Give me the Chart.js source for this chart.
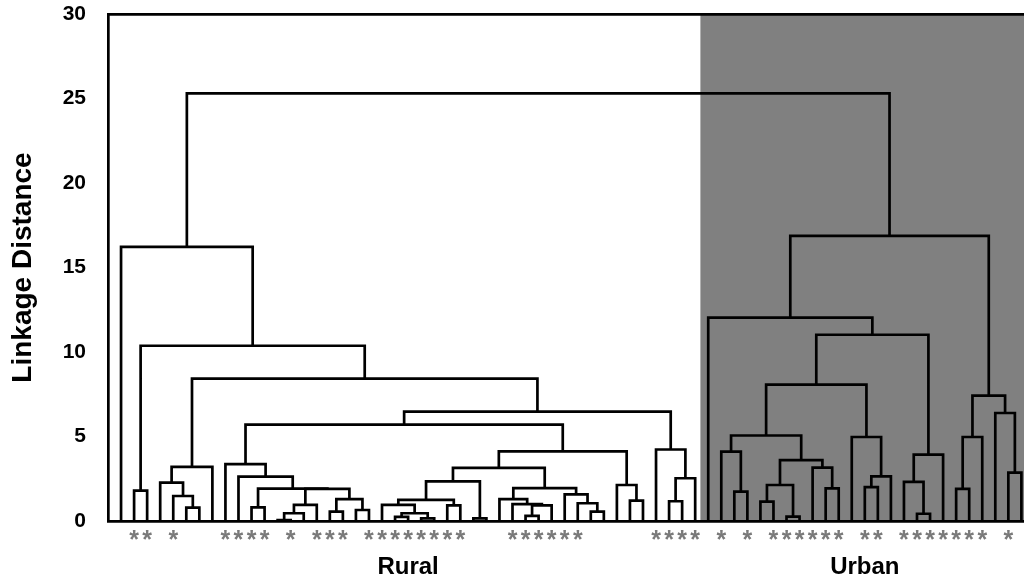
<!DOCTYPE html>
<html>
<head>
<meta charset="utf-8">
<script src="https://cdn.jsdelivr.net/npm/chart.js@4.4.1/dist/chart.umd.min.js"></script>
<style>
  html, body { margin: 0; padding: 0; background: #fff; }
  #wrap { width: 1024px; height: 579px; }
</style>
</head>
<body>
<div id="wrap"><canvas id="chart-dendro" width="1024" height="579"></canvas></div>
<script>
/* Dendrogram: node = [linkage distance, left, right], leaf = leaf index (left to right) */
const rootHeight = 25.3;

const ruralTree = [16.22, 0,
  [10.37,
    [1.8, 1, 2],
    [8.42,
      [3.2, [2.27, 3, [1.48, 4, [0.79, 5, 6]]], 7],
      [6.47,
        [5.7,
          [3.36, 8, [2.63, 9, [1.92, [0.81, 10, 11],
            [1.9, [0.95, [0.46, [0.05, 12, 13], 14], 15], [1.3, [0.55, 16, 17], [0.65, 18, 19]]]]]],
          [4.12,
            [3.14,
              [2.35, [1.25, [0.95, 20, [0.46, [0.25, 21, 22], [0.15, 23, 24]]], [0.92, 25, 26]], [0.15, 27, 28]],
              [1.95, [1.3, 29, [1.0, 30, [0.93, [0.3, 31, 32], 33]]], [1.58, 34, [1.05, 35, [0.56, 36, 37]]]]
            ],
            [2.13, 38, [1.2, 39, 40]]
          ]
        ],
        [4.23, 41, [2.53, [1.17, 42, 43], 44]]
      ]
    ]
  ]
];

const urbanTree = [16.87,
  [12.03, 45,
    [11.02,
      [8.07,
        [5.06, [4.1, 46, [1.74, 47, 48]],
          [3.6, [2.13, [1.15, 49, 50], [0.26, 51, 52]], [3.16, 53, [1.93, 54, 55]]]],
        [4.97, 56, [2.64, [2.0, 57, 58], 59]]
      ],
      [3.93, [2.31, 60, [0.43, 61, 62]], 63]
    ]
  ],
  [7.42, [4.97, [1.9, 64, 65], 66], [6.39, 67, [2.86, 68, 69]]]
];

// 1 = leaf marked with an asterisk
const starred = [
  0, 1, 1, 0, 1, 0, 0, 0, 1, 1,
  1, 1, 0, 1, 0, 1, 1, 1, 0, 1,
  1, 1, 1, 1, 1, 1, 1, 0, 0, 0,
  1, 1, 1, 1, 1, 1, 0, 0, 0, 0,
  0, 1, 1, 1, 1, 0, 1, 0, 1, 0,
  1, 1, 1, 1, 1, 1, 0, 1, 1, 0,
  1, 1, 1, 1, 1, 1, 1, 0, 1, 0
];

const groupNames = ['Rural', 'Urban'];
const groupFirstLeaf = [0, 45];
const groupLastLeaf = [44, 69];

const yTicks = [0, 5, 10, 15, 20, 25, 30];

const fontFamily = 'Arial, "Liberation Sans", Helvetica, sans-serif';

// walk the tree, one U-shaped link per merge
const links = [];
function walk(node) {
    if (!Array.isArray(node)) {
        return { x: node, h: 0 };
    }
    const a = walk(node[1]);
    const b = walk(node[2]);
    links.push([
        { x: a.x, y: a.h },
        { x: a.x, y: node[0] },
        { x: b.x, y: node[0] },
        { x: b.x, y: b.h }
    ]);
    return { x: (a.x + b.x) / 2, h: node[0] };
}
walk([rootHeight, ruralTree, urbanTree]);

const leafIdx = starred.map((s, i) => i);
const groupCenter = groupNames.map((g, i) => (groupFirstLeaf[i] + groupLastLeaf[i]) / 2);
const urbanStart = groupFirstLeaf[1] - 0.6;

const urbanShade = {
    id: 'urbanShade',
    beforeDraw(chart) {
        const { ctx, chartArea, scales } = chart;
        const x0 = scales.x.getPixelForValue(urbanStart);
        ctx.save();
        ctx.fillStyle = '#808080';
        ctx.fillRect(x0, chartArea.top, chartArea.right - x0, chartArea.bottom - chartArea.top);
        ctx.restore();
    }
};

const ctx = document.querySelector('#chart-dendro').getContext('2d');
const chart = new Chart(ctx, {
    type: 'line',
    data: {
        datasets: links.map(pts => ({
            data: pts,
            borderColor: '#000000',
            borderWidth: 2.7,
            borderJoinStyle: 'miter',
            pointRadius: 0,
            tension: 0,
            fill: false
        }))
    },
    options: {
        responsive: false,
        animation: false,
        layout: { padding: { top: 14, left: 0, right: 0, bottom: 0 } },
        plugins: {
            legend: { display: false },
            tooltip: { enabled: false }
        },
        scales: {
            x: {
                type: 'linear',
                position: 'bottom',
                weight: 0,
                min: -1,
                max: 69.2,
                afterBuildTicks: axis => { axis.ticks = leafIdx.map(v => ({ value: v })); },
                afterFit: axis => { axis.height = 33; },
                ticks: {
                    autoSkip: false,
                    maxRotation: 0,
                    minRotation: 0,
                    padding: 0,
                    color: '#7a7a7a',
                    font: { family: fontFamily, size: 25, weight: 'bold', lineHeight: 1 },
                    callback: (value, i) => starred[i] ? '*' : ''
                },
                grid: { display: false, drawTicks: true, tickLength: 8 },
                border: { display: true, color: '#000000', width: 2.7 }
            },
            xg: {
                type: 'linear',
                position: 'bottom',
                weight: 1,
                min: -1,
                max: 69.2,
                afterBuildTicks: axis => { axis.ticks = groupCenter.map(v => ({ value: v })); },
                afterFit: axis => { axis.height = 25; },
                ticks: {
                    autoSkip: false,
                    maxRotation: 0,
                    padding: 0,
                    color: '#000000',
                    font: { family: fontFamily, size: 24, weight: 'bold', lineHeight: 1 },
                    callback: (value, i) => groupNames[i]
                },
                grid: { display: false, drawTicks: true, tickLength: 1 },
                border: { display: false }
            },
            xTop: {
                type: 'linear',
                position: 'top',
                min: -1,
                max: 69.2,
                afterFit: axis => { axis.height = 0; },
                ticks: { display: false },
                grid: { display: false, drawTicks: false },
                border: { display: true, color: '#000000', width: 2.7 }
            },
            y: {
                type: 'linear',
                min: 0,
                max: 30,
                afterBuildTicks: axis => { axis.ticks = yTicks.map(v => ({ value: v })); },
                afterFit: axis => { axis.width = 108; },
                ticks: {
                    padding: 0,
                    color: '#000000',
                    font: { family: fontFamily, size: 21, weight: 'bold', lineHeight: 1 }
                },
                grid: { display: false, drawTicks: true, tickLength: 22 },
                border: { display: true, color: '#000000', width: 2.7 },
                title: {
                    display: true,
                    text: 'Linkage Distance',
                    color: '#000000',
                    padding: { top: 6, bottom: 0 },
                    font: { family: fontFamily, size: 28, weight: 'bold', lineHeight: 1.2 }
                }
            }
        }
    },
    plugins: [urbanShade]
});
</script>
</body>
</html>
